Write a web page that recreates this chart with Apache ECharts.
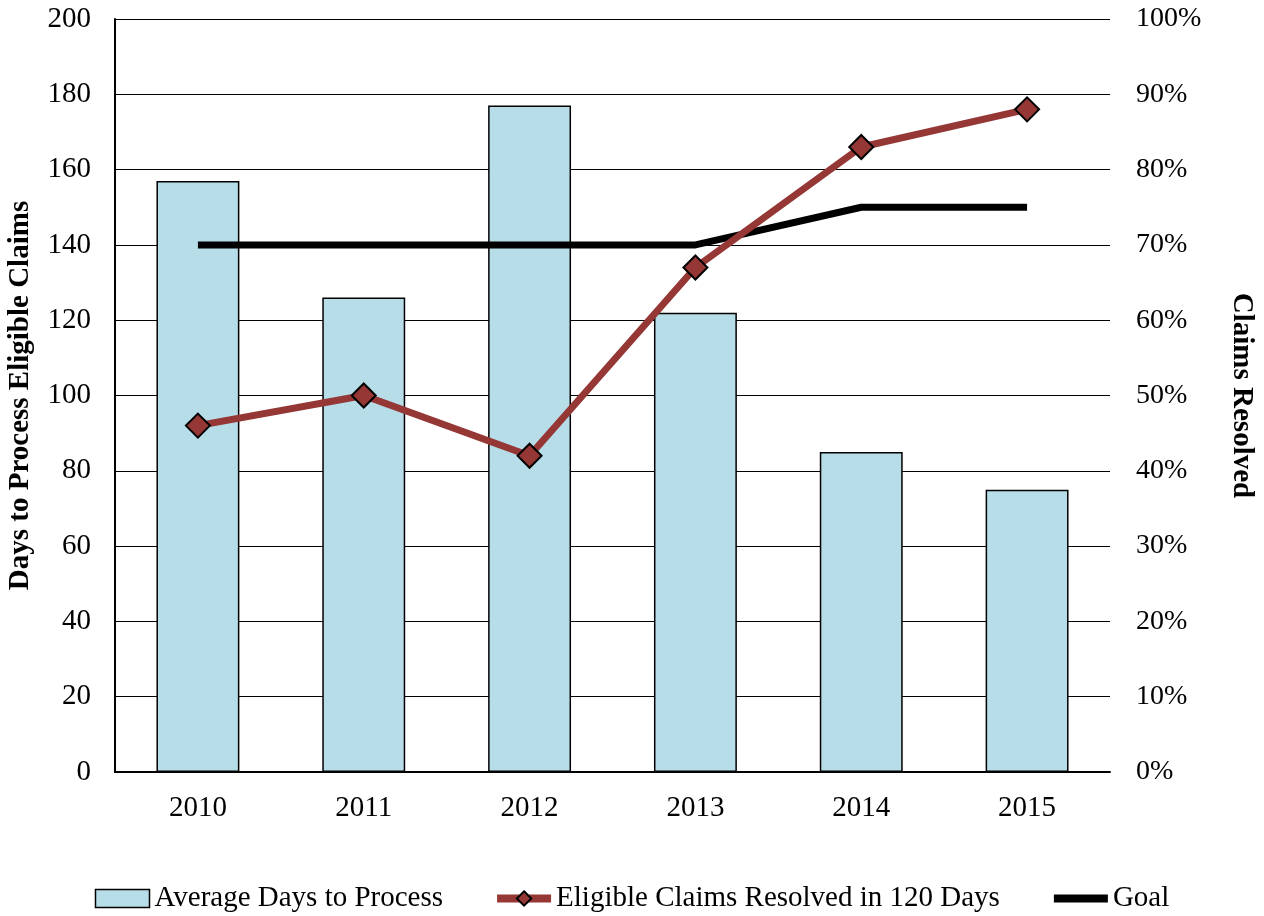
<!DOCTYPE html>
<html><head><meta charset="utf-8">
<script src="https://cdn.jsdelivr.net/npm/echarts@6/dist/echarts.min.js"></script>
<style>html,body{margin:0;padding:0;background:#fff}#c{width:1264px;height:916px}</style>
</head><body><div id="c"></div>
<script>
const categories = ['2010','2011','2012','2013','2014','2015'];
const avgDays = [157, 126, 177, 122, 85, 75];
const resolvedPct = [46, 50, 42, 67, 83, 88];
const goalPct = [70, 70, 70, 70, 75, 75];
const F = '"Liberation Serif","Times New Roman",serif';
const chart = echarts.init(document.getElementById('c'));
chart.setOption({
  animation: false,
  textStyle: { fontFamily: F },
  grid: { left: 115, right: 154, top: 19, bottom: 144, outerBoundsMode: 'none', containLabel: false },
  legend: {
    bottom: -2, left: 'center', itemGap: 50, itemWidth: 54, itemHeight: 18,
    textStyle: { fontFamily: F, fontSize: 29, color: '#000' },
    data: [
      { name: 'Average Days to Process', icon: 'rect', itemStyle: { borderColor: '#000', borderWidth: 1.5 } },
      { name: 'Eligible Claims Resolved in 120 Days', lineStyle: { width: 8 } },
      { name: 'Goal', lineStyle: { width: 8 }, itemStyle: { opacity: 0 } }
    ]
  },
  xAxis: {
    type: 'category', data: categories,
    axisLine: { lineStyle: { color: '#000', width: 2 } },
    axisTick: { show: false },
    axisLabel: { fontFamily: F, fontSize: 29, color: '#000', margin: 22 }
  },
  yAxis: [
    {
      type: 'value', min: 0, max: 200, interval: 20,
      name: 'Days to Process Eligible Claims', nameLocation: 'middle', nameGap: 80,
      nameTextStyle: { fontFamily: F, fontSize: 29, fontWeight: 'bold', color: '#000' },
      axisLine: { show: true, lineStyle: { color: '#000', width: 2 } },
      axisTick: { show: false },
      axisLabel: { fontFamily: F, fontSize: 29, color: '#000', margin: 24 },
      splitLine: { lineStyle: { color: '#000', width: 1.2 } }
    },
    {
      type: 'value', min: 0, max: 100, interval: 10,
      name: 'Claims Resolved', nameLocation: 'middle', nameGap: 117, nameRotate: -90,
      nameTextStyle: { fontFamily: F, fontSize: 29, fontWeight: 'bold', color: '#000' },
      axisLine: { show: false }, axisTick: { show: false },
      axisLabel: { fontFamily: F, fontSize: 28, color: '#000', margin: 26, formatter: '{value}%' },
      splitLine: { show: false }
    }
  ],
  series: [
    {
      name: 'Average Days to Process', type: 'bar', data: avgDays, barWidth: '50%',
      itemStyle: { color: '#b7dde8', borderColor: '#000', borderWidth: 1.5 }
    },
    {
      name: 'Eligible Claims Resolved in 120 Days', type: 'line', yAxisIndex: 1, data: resolvedPct,
      symbol: 'diamond', symbolSize: 24, z: 4,
      lineStyle: { color: '#953735', width: 7 },
      itemStyle: { color: '#953735', borderColor: '#000', borderWidth: 2 }
    },
    {
      name: 'Goal', type: 'line', yAxisIndex: 1, data: goalPct,
      symbol: 'none', z: 3,
      lineStyle: { color: '#000', width: 7 },
      itemStyle: { color: '#000' }
    }
  ]
});
</script></body></html>
